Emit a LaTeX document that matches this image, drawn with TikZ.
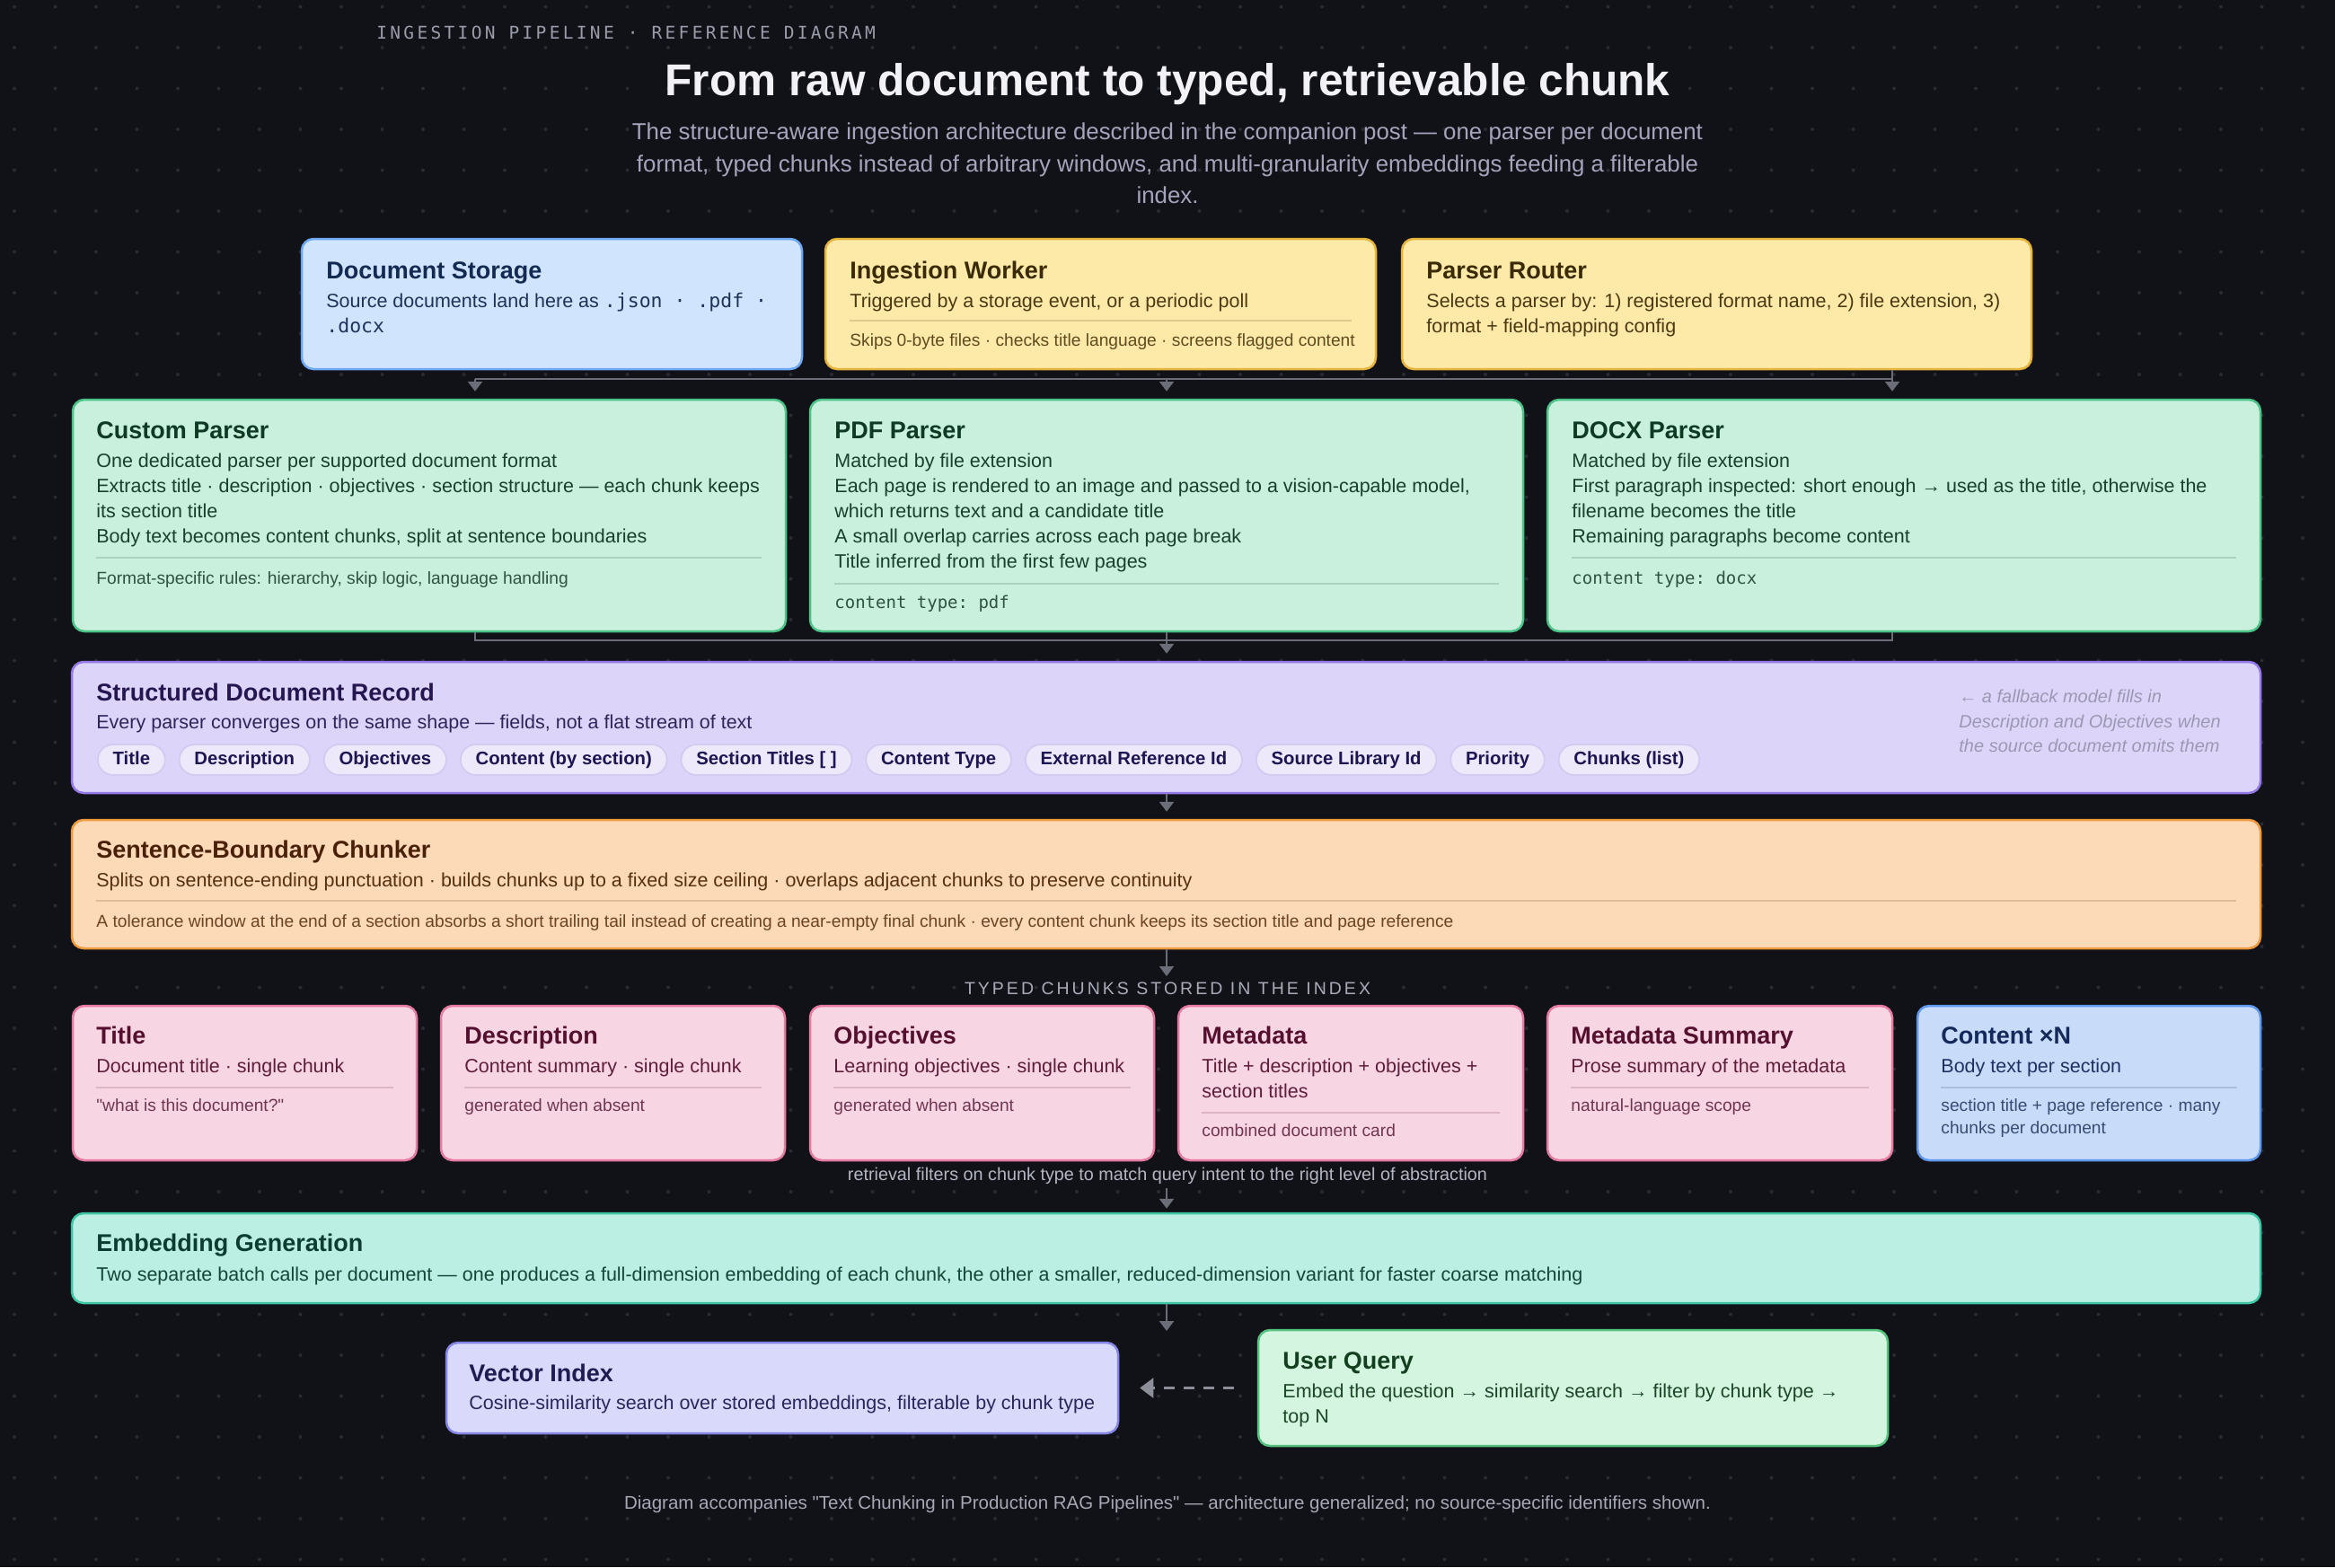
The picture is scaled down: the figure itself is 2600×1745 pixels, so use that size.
\documentclass[tikz,border=0pt]{standalone}
\usepackage{fontspec}
\setmainfont{Liberation Sans}[Ligatures=TeXOff]
\setmonofont{DejaVu Sans Mono}
\newfontfamily\kickerfont[LetterSpace=17]{DejaVu Sans Mono}
\newfontfamily\capsfont[LetterSpace=15.5,Ligatures=TeXOff]{Liberation Sans}
\usetikzlibrary{arrows.meta,fit,positioning,calc}

% page and guides
\definecolor{bgc}{HTML}{111218}
\definecolor{dotc}{HTML}{282A34}
\definecolor{connc}{HTML}{6B6E78}
\definecolor{dashc}{HTML}{8C8F98}
\definecolor{headc}{HTML}{F2F2F6}
\definecolor{kickc}{HTML}{9A9CAB}
\definecolor{subc}{HTML}{A6A4BC}
\definecolor{labc}{HTML}{A9ABB9}
\definecolor{retc}{HTML}{B4B6C3}
\definecolor{footc}{HTML}{A7A8B6}
% card palettes: fill, border, title, body, note, rule
\definecolor{blueF}{HTML}{D1E4FE}\definecolor{blueD}{HTML}{6FA8F2}
\definecolor{blueT}{HTML}{132A52}\definecolor{blueB}{HTML}{1E3358}
\definecolor{ambF}{HTML}{FDE9A8}\definecolor{ambD}{HTML}{E6B33C}
\definecolor{ambT}{HTML}{3B2A06}\definecolor{ambB}{HTML}{4A3912}
\definecolor{ambN}{HTML}{5E4B1F}\definecolor{ambR}{HTML}{DCCB8E}
\definecolor{mintF}{HTML}{C9EFDD}\definecolor{mintD}{HTML}{4DC487}
\definecolor{mintT}{HTML}{0E3A24}\definecolor{mintB}{HTML}{18402C}
\definecolor{mintN}{HTML}{2F5241}\definecolor{mintR}{HTML}{AED0BE}
\definecolor{vioF}{HTML}{DCD5F9}\definecolor{vioD}{HTML}{9579E8}
\definecolor{vioT}{HTML}{261650}\definecolor{vioB}{HTML}{30245A}
\definecolor{vioN}{HTML}{9C98B3}
\definecolor{chipF}{HTML}{EDE9FB}\definecolor{chipD}{HTML}{D3CBF0}
\definecolor{chipT}{HTML}{1E1652}
\definecolor{pchF}{HTML}{FCD9B7}\definecolor{pchD}{HTML}{EE9A3E}
\definecolor{pchT}{HTML}{4A2108}\definecolor{pchB}{HTML}{563010}
\definecolor{pchN}{HTML}{6C4422}\definecolor{pchR}{HTML}{E0BC9B}
\definecolor{pnkF}{HTML}{F8D5E2}\definecolor{pnkD}{HTML}{E57BA1}
\definecolor{pnkT}{HTML}{55102F}\definecolor{pnkB}{HTML}{5E1D3A}
\definecolor{pnkN}{HTML}{6F3651}\definecolor{pnkR}{HTML}{DDB5C4}
\definecolor{skyF}{HTML}{C8DCFA}\definecolor{skyD}{HTML}{5F98EC}
\definecolor{skyT}{HTML}{15295A}\definecolor{skyB}{HTML}{1E3161}
\definecolor{skyN}{HTML}{384B73}\definecolor{skyR}{HTML}{AABFDE}
\definecolor{tealF}{HTML}{BBEFE3}\definecolor{tealD}{HTML}{3EC5A3}
\definecolor{tealT}{HTML}{0C3D30}\definecolor{tealB}{HTML}{154637}
\definecolor{indF}{HTML}{D9D9FB}\definecolor{indD}{HTML}{8686E8}
\definecolor{indT}{HTML}{1F1C52}\definecolor{indB}{HTML}{28265B}
\definecolor{grnF}{HTML}{D4F5DF}\definecolor{grnD}{HTML}{55C27E}
\definecolor{grnT}{HTML}{12401F}\definecolor{grnB}{HTML}{1B4628}

\tikzset{
  card/.style={rounded corners=6.5pt, line width=1.25pt, inner sep=0pt},
  ttl/.style={anchor=base west, inner sep=0pt, font=\fontsize{13.5}{16}\selectfont\bfseries},
  bdy/.style={anchor=base west, inner sep=0pt, font=\fontsize{10.75}{14}\selectfont},
  nte/.style={anchor=base west, inner sep=0pt, font=\fontsize{9.6}{12}\selectfont},
  mno/.style={anchor=base west, inner sep=0pt, font=\fontsize{9.5}{12}\ttfamily},
  sep/.style={line width=0.8pt},
  chip/.style={draw=chipD, fill=chipF, text=chipT, rounded corners=8.5pt,
    line width=0.9pt, inner xsep=8.4pt, inner ysep=0pt, minimum height=17pt,
    text height=7.4pt, text depth=2.1pt, font=\fontsize{10.15}{12}\selectfont\bfseries},
  conn/.style={draw=connc, line width=1.2pt},
  arr/.style={conn, -{Triangle[width=8pt,length=5.5pt]}},
  dasharr/.style={draw=dashc, line width=1.2pt, dash pattern=on 6pt off 5pt,
    -{Triangle[width=11pt,length=7.5pt]}},
}
\newcommand\cardTitle[4]{\node[ttl,text=#1] (#2) at (#3) {#4};}
\newcommand\cardBody[4]{\node[bdy,text=#1] (#2) at (#3) {#4};}
\newcommand\cardNote[4]{\node[nte,text=#1] (#2) at (#3) {#4};}
\newcommand\cardMono[4]{\node[mno,text=#1] (#2) at (#3) {#4};}

\begin{document}
\begin{tikzpicture}[x=0.5pt,y=-0.5pt]
\useasboundingbox (0,0) rectangle (2600,1745);
\fill[bgc] (0,0) rectangle (2600,1745);
\foreach \i in {0,...,56}
  \foreach \j in {0,...,38}
    \fill[dotc] (16+45.5*\i,7.5+45.5*\j) circle[radius=1pt];

% heading
\node[anchor=base west, inner sep=0pt, text=kickc, font={\fontsize{9.75}{12}\kickerfont}]
  (kicker) at (419,43) {INGESTION PIPELINE · REFERENCE DIAGRAM};
\node[anchor=base, inner sep=0pt, text=headc, font=\fontsize{24.8}{30}\selectfont\bfseries]
  (headline) at (1300,106) {From raw document to typed, retrievable chunk};
\node[anchor=base, inner sep=0pt, text=subc, font=\fontsize{12.92}{16}\selectfont] (sub1) at (1300,155)
  {The structure-aware ingestion architecture described in the companion post — one parser per document};
\node[anchor=base, inner sep=0pt, text=subc, font=\fontsize{12.92}{16}\selectfont] (sub2) at (1300,191)
  {format, typed chunks instead of arbitrary windows, and multi-granularity embeddings feeding a filterable};
\node[anchor=base, inner sep=0pt, text=subc, font=\fontsize{12.92}{16}\selectfont] (sub3) at (1300,226)
  {index.};

% sources
\node[card, fill=blueF, draw=blueD, fit={(336,266) (893,411)}] (storage) {};
\cardTitle{blueT}{storage-t}{363,310}{Document Storage}
\cardBody{blueB}{storage-b1}{363,342}{Source documents land here as \texttt{.json · .pdf ·}}
\cardBody{blueB}{storage-b2}{363,370}{\texttt{.docx}}

\node[card, fill=ambF, draw=ambD, fit={(919,266) (1532,411)}] (worker) {};
\cardTitle{ambT}{worker-t}{946,310}{Ingestion Worker}
\cardBody{ambB}{worker-b1}{946,342}{Triggered by a storage event, or a periodic poll}
\draw[sep, draw=ambR] (946,357) -- (1505,357);
\cardNote{ambN}{worker-n1}{946,385}{Skips 0-byte files · checks title language · screens flagged content}

\node[card, fill=ambF, draw=ambD, fit={(1561,266) (2262,411)}] (router) {};
\cardTitle{ambT}{router-t}{1588,310}{Parser Router}
\cardBody{ambB}{router-b1}{1588,342}{Selects a parser by: 1) registered format name, 2) file extension, 3)}
\cardBody{ambB}{router-b2}{1588,370}{format + field-mapping config}

% parsers
\node[card, fill=mintF, draw=mintD, fit={(81,445) (875,703)}] (custom) {};
\cardTitle{mintT}{custom-t}{107,488}{Custom Parser}
\cardBody{mintB}{custom-b1}{107,520}{One dedicated parser per supported document format}
\cardBody{mintB}{custom-b2}{107,548}{Extracts title · description · objectives · section structure — each chunk keeps}
\cardBody{mintB}{custom-b3}{107,576}{its section title}
\cardBody{mintB}{custom-b4}{107,604}{Body text becomes content chunks, split at sentence boundaries}
\draw[sep, draw=mintR] (107,621) -- (848,621);
\cardNote{mintN}{custom-n1}{107,650}{Format-specific rules: hierarchy, skip logic, language handling}

\node[card, fill=mintF, draw=mintD, fit={(902,445) (1696,703)}] (pdf) {};
\cardTitle{mintT}{pdf-t}{929,488}{PDF Parser}
\cardBody{mintB}{pdf-b1}{929,520}{Matched by file extension}
\cardBody{mintB}{pdf-b2}{929,548}{Each page is rendered to an image and passed to a vision-capable model,}
\cardBody{mintB}{pdf-b3}{929,576}{which returns text and a candidate title}
\cardBody{mintB}{pdf-b4}{929,604}{A small overlap carries across each page break}
\cardBody{mintB}{pdf-b5}{929,632}{Title inferred from the first few pages}
\draw[sep, draw=mintR] (929,650) -- (1669,650);
\cardMono{mintN}{pdf-m}{929,677}{content type: pdf}

\node[card, fill=mintF, draw=mintD, fit={(1723,445) (2517,703)}] (docx) {};
\cardTitle{mintT}{docx-t}{1750,488}{DOCX Parser}
\cardBody{mintB}{docx-b1}{1750,520}{Matched by file extension}
\cardBody{mintB}{docx-b2}{1750,548}{First paragraph inspected: short enough → used as the title, otherwise the}
\cardBody{mintB}{docx-b3}{1750,576}{filename becomes the title}
\cardBody{mintB}{docx-b4}{1750,604}{Remaining paragraphs become content}
\draw[sep, draw=mintR] (1750,621) -- (2490,621);
\cardMono{mintN}{docx-m}{1750,650}{content type: docx}

% structured record
\node[card, fill=vioF, draw=vioD, fit={(80,737) (2517,883)}] (record) {};
\cardTitle{vioT}{record-t}{107,780}{Structured Document Record}
\cardBody{vioB}{record-b1}{107,811}{Every parser converges on the same shape — fields, not a flat stream of text}
\node[chip, anchor=west] (chip1) at (108,846) {Title};
\node[chip, right=7pt of chip1] (chip2) {Description};
\node[chip, right=7pt of chip2] (chip3) {Objectives};
\node[chip, right=7pt of chip3] (chip4) {Content (by section)};
\node[chip, right=7pt of chip4] (chip5) {Section Titles [ ]};
\node[chip, right=7pt of chip5] (chip6) {Content Type};
\node[chip, right=7pt of chip6] (chip7) {External Reference Id};
\node[chip, right=7pt of chip7] (chip8) {Source Library Id};
\node[chip, right=7pt of chip8] (chip9) {Priority};
\node[chip, right=7pt of chip9] (chip10) {Chunks (list)};
\node[anchor=base west, inner sep=0pt, text=vioN, font=\fontsize{10}{12}\selectfont\itshape]
  (record-n1) at (2181,782) {← a fallback model fills in};
\node[anchor=base west, inner sep=0pt, text=vioN, font=\fontsize{10}{12}\selectfont\itshape]
  (record-n2) at (2181,810) {Description and Objectives when};
\node[anchor=base west, inner sep=0pt, text=vioN, font=\fontsize{10}{12}\selectfont\itshape]
  (record-n3) at (2181,837) {the source document omits them};

% chunker
\node[card, fill=pchF, draw=pchD, fit={(80,913) (2517,1056)}] (chunker) {};
\cardTitle{pchT}{chunker-t}{107,955}{Sentence-Boundary Chunker}
\cardBody{pchB}{chunker-b1}{107,987}{Splits on sentence-ending punctuation · builds chunks up to a fixed size ceiling · overlaps adjacent chunks to preserve continuity}
\draw[sep, draw=pchR] (107,1003) -- (2490,1003);
\cardNote{pchN}{chunker-n1}{107,1032}{A tolerance window at the end of a section absorbs a short trailing tail instead of creating a near-empty final chunk · every content chunk keeps its section title and page reference}

% typed chunks
\node[anchor=base, inner sep=0pt, text=labc, font={\fontsize{9.75}{12}\capsfont}]
  (typedlabel) at (1300,1107) {TYPED CHUNKS STORED IN THE INDEX};

\node[card, fill=pnkF, draw=pnkD, fit={(81,1120) (464,1292)}] (ctitle) {};
\cardTitle{pnkT}{ctitle-t}{107,1162}{Title}
\cardBody{pnkB}{ctitle-b1}{107,1194}{Document title · single chunk}
\draw[sep, draw=pnkR] (107,1211) -- (438,1211);
\cardNote{pnkN}{ctitle-n1}{107,1237}{"what is this document?"}

\node[card, fill=pnkF, draw=pnkD, fit={(491,1120) (874,1292)}] (cdesc) {};
\cardTitle{pnkT}{cdesc-t}{517,1162}{Description}
\cardBody{pnkB}{cdesc-b1}{517,1194}{Content summary · single chunk}
\draw[sep, draw=pnkR] (517,1211) -- (848,1211);
\cardNote{pnkN}{cdesc-n1}{517,1237}{generated when absent}

\node[card, fill=pnkF, draw=pnkD, fit={(902,1120) (1285,1292)}] (cobj) {};
\cardTitle{pnkT}{cobj-t}{928,1162}{Objectives}
\cardBody{pnkB}{cobj-b1}{928,1194}{Learning objectives · single chunk}
\draw[sep, draw=pnkR] (928,1211) -- (1259,1211);
\cardNote{pnkN}{cobj-n1}{928,1237}{generated when absent}

\node[card, fill=pnkF, draw=pnkD, fit={(1312,1120) (1696,1292)}] (cmeta) {};
\cardTitle{pnkT}{cmeta-t}{1338,1162}{Metadata}
\cardBody{pnkB}{cmeta-b1}{1338,1194}{Title + description + objectives +}
\cardBody{pnkB}{cmeta-b2}{1338,1222}{section titles}
\draw[sep, draw=pnkR] (1338,1239) -- (1670,1239);
\cardNote{pnkN}{cmeta-n1}{1338,1265}{combined document card}

\node[card, fill=pnkF, draw=pnkD, fit={(1723,1120) (2107,1292)}] (csum) {};
\cardTitle{pnkT}{csum-t}{1749,1162}{Metadata Summary}
\cardBody{pnkB}{csum-b1}{1749,1194}{Prose summary of the metadata}
\draw[sep, draw=pnkR] (1749,1211) -- (2081,1211);
\cardNote{pnkN}{csum-n1}{1749,1237}{natural-language scope}

\node[card, fill=skyF, draw=skyD, fit={(2135,1120) (2517,1292)}] (ccont) {};
\cardTitle{skyT}{ccont-t}{2161,1162}{Content ×N}
\cardBody{skyB}{ccont-b1}{2161,1194}{Body text per section}
\draw[sep, draw=skyR] (2161,1211) -- (2491,1211);
\cardNote{skyN}{ccont-n1}{2161,1237}{section title + page reference · many}
\cardNote{skyN}{ccont-n2}{2161,1262}{chunks per document}

\node[anchor=base, inner sep=0pt, text=retc, font=\fontsize{9.9}{12}\selectfont]
  (retrlabel) at (1300,1314) {retrieval filters on chunk type to match query intent to the right level of abstraction};

% embeddings and index
\node[card, fill=tealF, draw=tealD, fit={(80,1351) (2517,1451)}] (embed) {};
\cardTitle{tealT}{embed-t}{107,1393}{Embedding Generation}
\cardBody{tealB}{embed-b1}{107,1426}{Two separate batch calls per document — one produces a full-dimension embedding of each chunk, the other a smaller, reduced-dimension variant for faster coarse matching}

\node[card, fill=indF, draw=indD, fit={(497,1495) (1245,1596)}] (vindex) {};
\cardTitle{indT}{vindex-t}{522,1538}{Vector Index}
\cardBody{indB}{vindex-b1}{522,1569}{Cosine-similarity search over stored embeddings, filterable by chunk type}

\node[card, fill=grnF, draw=grnD, fit={(1401,1481) (2102,1610)}] (query) {};
\cardTitle{grnT}{query-t}{1428,1524}{User Query}
\cardBody{grnB}{query-b1}{1428,1556}{Embed the question → similarity search → filter by chunk type →}
\cardBody{grnB}{query-b2}{1428,1584}{top N}

\node[anchor=base, inner sep=0pt, text=footc, font=\fontsize{10.25}{12}\selectfont]
  (footer) at (1300,1680) {Diagram accompanies "Text Chunking in Production RAG Pipelines" — architecture generalized; no source-specific identifiers shown.};

% connectors
\coordinate (busL) at (529,422);
\coordinate (busM) at (1299,422);
\coordinate (busR) at (2107,422);
\draw[conn] (router.south -| busR) -- (busR) -- (busL);
\draw[arr, shorten >=4pt] (busL) -- (busL |- custom.north);
\draw[arr, shorten >=4pt] (busM) -- (busM |- pdf.north);
\draw[arr, shorten >=4pt] (busR) -- (busR |- docx.north);

\coordinate (mrgL) at (529,713);
\coordinate (mrgM) at (1299,713);
\coordinate (mrgR) at (2107,713);
\draw[conn] (mrgL |- custom.south) -- (mrgL) -- (mrgR) -- (mrgR |- docx.south);
\draw[conn] (mrgM |- pdf.south) -- (mrgM);
\draw[arr, shorten >=4pt] (mrgM) -- (mrgM |- record.north);

\draw[arr, shorten >=4pt] (record.south -| mrgM) -- (chunker.north -| mrgM);
\draw[arr, shorten >=3pt] (chunker.south -| mrgM) -- (typedlabel.north -| mrgM);
\draw[arr, shorten <=2pt, shorten >=2pt] (retrlabel.south -| mrgM) -- (embed.north -| mrgM);
\coordinate (embout) at (1299,1482);
\draw[arr] (embed.south -| mrgM) -- (embout);
\draw[dasharr, shorten <=13pt, shorten >=11.5pt] (query.west) -- (vindex.east);
\end{tikzpicture}
\end{document}
